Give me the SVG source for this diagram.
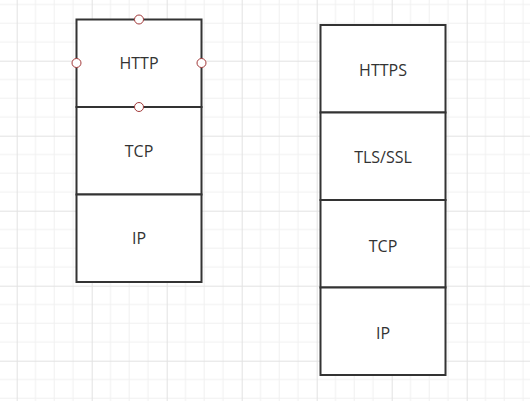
<svg xmlns="http://www.w3.org/2000/svg" width="530" height="401" viewBox="0 0 530 401">
<defs>
<pattern id="grid" patternUnits="userSpaceOnUse" x="16.7" y="60.7" width="75" height="75">
<path d="M0 18.75H75M0 37.5H75M0 56.25H75M18.75 0V75M37.5 0V75M56.25 0V75" stroke="#f0f0f0" stroke-width="1" fill="none"/>
<path d="M0 0.5H75M0.5 0V75" stroke="#e2e2e2" stroke-width="1" fill="none"/>
</pattern>
<style>
.box{fill:#fff;stroke:#333;stroke-width:2}
.lbl{font-family:"Open Sans","Noto Sans",sans-serif;font-size:16px;fill:#333;text-anchor:middle}
.pt{fill:#fff;stroke:#a33a3a;stroke-width:1}
</style>
</defs>
<rect width="530" height="401" fill="#fff"/>
<rect width="530" height="401" fill="url(#grid)"/>
<g id="http"><rect class="box" x="76.5" y="19.5" width="125" height="87.5"/><text class="lbl" x="139" y="69">HTTP</text></g>
<g id="tcp1"><rect class="box" x="76.5" y="107" width="125" height="87.5"/><text class="lbl" x="139" y="157.3">TCP</text></g>
<g id="ip1"><rect class="box" x="76.5" y="194.5" width="125" height="87.5"/><text class="lbl" x="139" y="244.3">IP</text></g>
<g id="https"><rect class="box" x="320.5" y="25" width="125" height="87.5"/><text class="lbl" x="383" y="76">HTTPS</text></g>
<g id="tls"><rect class="box" x="320.5" y="112.5" width="125" height="87.5"/><text class="lbl" x="383" y="163.3">TLS/SSL</text></g>
<g id="tcp2"><rect class="box" x="320.5" y="200" width="125" height="87.5"/><text class="lbl" x="383" y="251.7">TCP</text></g>
<g id="ip2"><rect class="box" x="320.5" y="287.5" width="125" height="87.5"/><text class="lbl" x="383" y="338.5">IP</text></g>
<g id="handles">
<circle class="pt" cx="139" cy="19.5" r="4.5"/>
<circle class="pt" cx="76.5" cy="63" r="4.5"/>
<circle class="pt" cx="201.5" cy="63" r="4.5"/>
<circle class="pt" cx="139" cy="107" r="4.5"/>
</g>
<g id="connectors"></g>
</svg>
